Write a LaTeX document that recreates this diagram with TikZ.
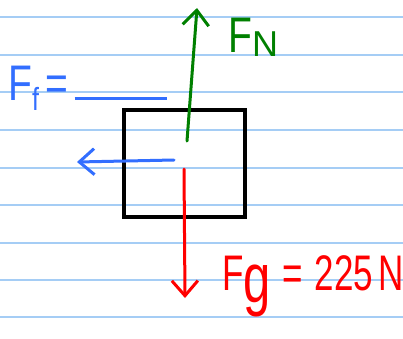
\documentclass[tikz,border=0pt]{standalone}
\usepackage{fontspec}
\setmainfont{Liberation Sans}
\usetikzlibrary{arrows.meta,positioning}
\definecolor{paperline}{RGB}{165,205,245}
\definecolor{normalgreen}{RGB}{0,128,0}
\definecolor{fricblue}{RGB}{50,110,255}
\definecolor{gravred}{RGB}{255,0,0}
\newcommand{\narrow}[2][0.78]{\scalebox{#1}[1]{#2}}
\newcommand{\sub}[3][32]{\lower#2pt\hbox{\fontsize{#1}{#1}\selectfont #3}}
\tikzset{
  rule/.style={paperline, line width=1.6pt},
  block/.style={draw=black, line width=3.5pt, minimum width=121pt,
                minimum height=107pt, inner sep=0pt},
  force/.style={line width=3pt, line cap=round,
                -{Straight Barb[length=15pt,width=26pt,line width=3pt]}},
  hand/.style={inner sep=0pt, anchor=base west, font=\fontsize{50}{50}\selectfont},
}

\begin{document}
\begin{tikzpicture}[x=1pt,y=-1pt]
  \useasboundingbox[fill=white] (0,0) rectangle (403,338);
  % ruled paper
  \foreach \y in {17,55,92,130,168,205,243,280,317}
    \draw[rule] (0,\y) -- (403,\y);
  % the block
  \node[block] (box) at (184.5,163.5) {};
  % force vectors
  \coordinate (nstart) at (187,141);
  \coordinate (ntip) at (197,8);
  \coordinate (fstart) at (174,160);
  \coordinate (ftip) at (77,162);
  \coordinate (gstart) at (184,169);
  \coordinate (gtip) at (185,298);
  \draw[force, normalgreen] (nstart) -- (ntip);
  \draw[force, fricblue] (fstart) -- (ftip);
  \draw[force, gravred] (gstart) -- (gtip);
  % labels
  \node[hand, text=normalgreen] (fn) at (228,52)
    {\narrow{F}\sub[36]{4}{N}};
  \node[hand, text=fricblue] (ff) at (8,100)
    {\narrow{F\sub{10}{f}\,=\,\rule{118pt}{3pt}}};
  \node[hand, text=gravred] (fg) at (222,290)
    {\narrow[0.7]{F\sub[70]{12}{g}\,\,=\,\,225\,N}};
\end{tikzpicture}
\end{document}
